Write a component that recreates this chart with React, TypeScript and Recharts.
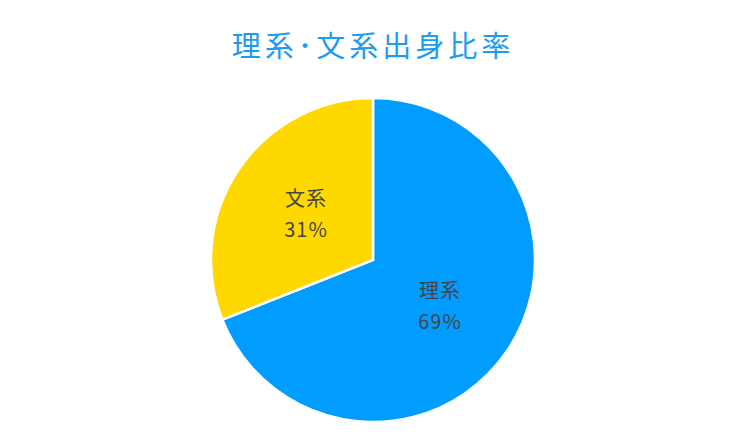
import { PieChart, Pie, Cell } from "recharts";

const categories = ["理系", "文系"];
const shares = [69, 31];
const colors = ["#009cff", "#ffd800"];

const data = categories.map((name, i) => ({ name, value: shares[i] }));

const RADIAN = Math.PI / 180;

// eslint-disable-next-line @typescript-eslint/no-explicit-any
function renderLabel({ cx, cy, midAngle, outerRadius, name, value }: any) {
  const r = outerRadius * 0.5;
  const x = cx + r * Math.cos(-midAngle * RADIAN);
  const y = cy + r * Math.sin(-midAngle * RADIAN);
  return (
    <text
      x={x}
      y={y}
      textAnchor="middle"
      fill="#454545"
      fontSize={20}
      letterSpacing={1}
      fontFamily="'Noto Sans CJK JP', 'Noto Sans', sans-serif"
    >
      <tspan x={x} dy={-8}>
        {name}
      </tspan>
      <tspan x={x} dy={31}>
        {value}%
      </tspan>
    </text>
  );
}

export default function App() {
  return (
    <div style={{ position: "absolute", left: 0, top: 0, width: 746, height: 447, background: "#fff" }}>
      <PieChart width={746} height={447} margin={{ top: 0, right: 0, bottom: 0, left: 0 }}>
        <Pie
          data={data}
          dataKey="value"
          nameKey="name"
          cx={373}
          cy={260}
          outerRadius={162}
          startAngle={90}
          endAngle={-270}
          stroke="#ffffff"
          strokeWidth={2.5}
          label={renderLabel}
          labelLine={false}
          isAnimationActive={false}
        >
          {data.map((d, i) => (
            <Cell key={d.name} fill={colors[i]} />
          ))}
        </Pie>
      </PieChart>
      <div
        style={{
          position: "absolute",
          left: 0,
          top: 24,
          width: 746,
          textAlign: "center",
          fontSize: 29,
          letterSpacing: 4,
          lineHeight: "40px",
          color: "#1a9cf0",
          fontFamily: "'Noto Sans CJK JP', sans-serif",
        }}
      >
        理系･文系出身比率
      </div>
    </div>
  );
}
